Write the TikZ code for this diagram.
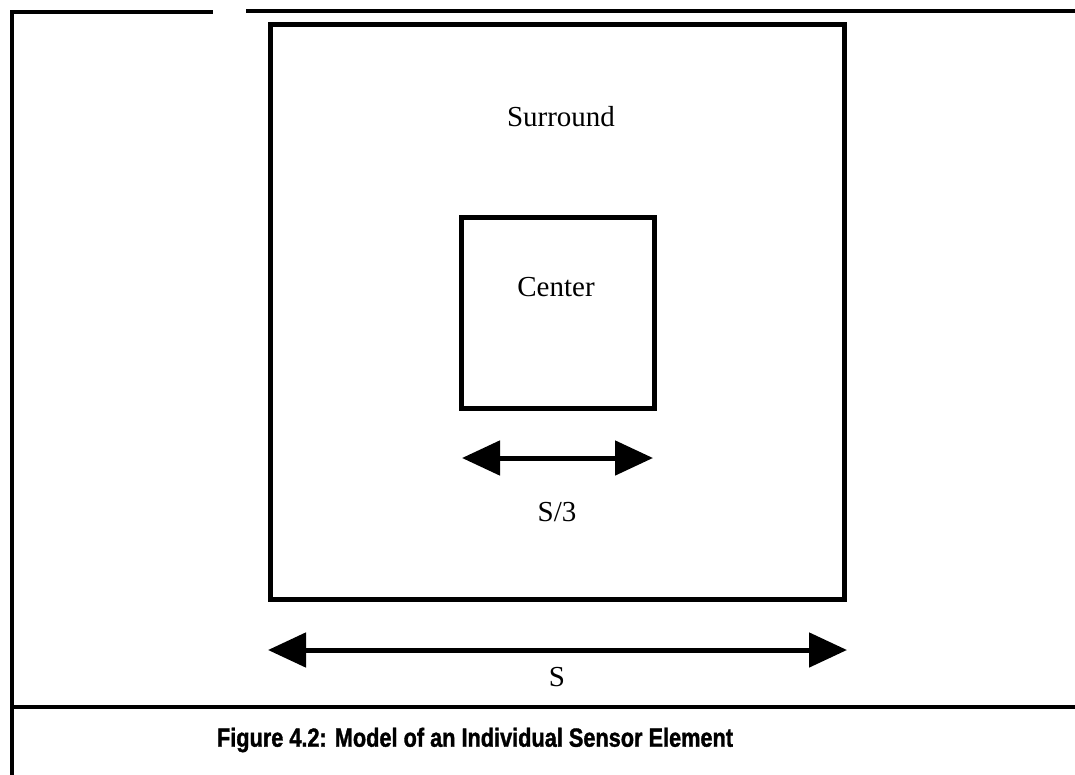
\documentclass[tikz,border=0pt]{standalone}
\usepackage{fontspec}
\setmainfont{Liberation Serif}
\newfontfamily\capfont[FakeBold=1.5]{Liberation Sans Bold}
\usetikzlibrary{arrows.meta}
\tikzset{
  framerule/.style={line width=3.5pt, line cap=rect},
  boxstyle/.style={draw, line width=5pt, inner sep=0pt},
  dimarrow/.style={line width=5pt, {Triangle[length=38pt,width=34pt]}-{Triangle[length=38pt,width=34pt]}},
  lbl/.style={font=\fontsize{29}{33}\selectfont, inner sep=0pt},
}
\begin{document}
\begin{tikzpicture}[x=1pt,y=-1pt]
\useasboundingbox (0,0) rectangle (1075,775);
% page frame
\coordinate (ftl) at (12,12);
\coordinate (fgap1) at (211,12);
\coordinate (fgap2) at (248,11);
\coordinate (ftr) at (1075,11);
\coordinate (fbl) at (12,775);
\coordinate (fml) at (12,707);
\coordinate (fmr) at (1075,707);
\draw[framerule] (ftl) -- (fgap1);
\draw[framerule] (fgap2) -- (ftr);
\draw[framerule] (ftl) -- (fbl);
\draw[framerule] (fml) -- (fmr);
% boxes
\node[boxstyle, minimum width=574pt, minimum height=575pt] (outer) at (557.5,312) {};
\node[boxstyle, minimum width=193pt, minimum height=191pt] (inner) at (558,313) {};
% labels
\node[lbl] (surround) at (561,117) {Surround};
\node[lbl] (center) at (556,287) {Center};
\node[lbl] (sthird) at (557,512) {S/3};
\node[lbl] (sfull) at (557,677) {S};
% arrows
\coordinate (sa1) at (462,458);
\coordinate (sa2) at (653,458);
\coordinate (ba1) at (268,650);
\coordinate (ba2) at (847,650);
\draw[dimarrow] (sa1) -- (sa2);
\draw[dimarrow] (ba1) -- (ba2);
% caption
\node[inner sep=0pt] (caption) at (475,740) {\resizebox{516pt}{19pt}{\capfont Figure 4.2: Model of an Individual Sensor Element}};
\end{tikzpicture}
\end{document}
